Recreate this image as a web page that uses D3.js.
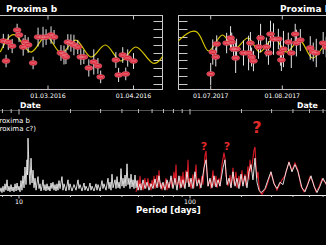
<!DOCTYPE html>
<html>
<head>
<meta charset="utf-8">
<script src="https://cdnjs.cloudflare.com/ajax/libs/d3/7.8.5/d3.min.js"></script>
<style>
  html, body { margin: 0; padding: 0; background: #000; overflow: hidden; }
  svg { display: block; }
  text { font-family: "DejaVu Sans", sans-serif; fill: #fff; }
</style>
</head>
<body>
<div id="root"></div>
<script>
// radial velocities, times in BJD - 2457000, values and errors in m/s
const rv2016Time = [432.3, 434.1, 433.3, 435.5, 437.3, 438.0, 439.5, 440.2, 441.3, 443.1, 444.9, 446.7, 447.8, 449.6, 450.7, 453.2, 454.3, 455.0, 455.7, 456.8, 457.9, 459.3, 460.4, 461.5, 463.3, 465.1, 466.6, 467.6, 473.1, 474.1, 475.6, 476.7, 477.4, 479.5];
const rv2016Value = [1.46, 1.33, -1.08, 0.82, 2.85, 2.22, 0.70, 1.33, 0.95, -1.33, 1.96, 1.96, 1.96, 2.22, 1.96, -0.06, -0.32, -0.57, 1.33, 1.20, 0.95, 0.70, -0.57, -0.57, -1.96, -1.20, -1.71, -3.10, -0.95, -2.85, -0.32, -2.72, -0.70, -1.08];
const rv2016Err = [0.9, 1.0, 0.8, 0.9, 0.8, 0.9, 1.1, 0.9, 1.0, 0.8, 1.2, 1.3, 1.0, 1.1, 0.9, 1.0, 1.2, 0.9, 1.0, 1.1, 1.3, 0.9, 1.0, 0.9, 1.1, 1.6, 1.0, 0.8, 1.0, 0.9, 1.0, 0.8, 1.1, 1.0];

const rv2017Time = [935.5, 936.4, 937.7, 938.1, 942.4, 944.1, 944.6, 945.4, 946.3, 946.7, 949.7, 951.9, 952.7, 953.2, 954.0, 956.2, 957.1, 959.6, 960.5, 961.4, 962.7, 964.8, 965.7, 966.1, 967.0, 969.1, 970.4, 972.1, 972.6, 974.3, 978.6, 979.9, 981.2, 984.2, 985.5];
const rv2017Value = [-2.72, 0.06, -0.57, 1.08, 1.20, 1.84, 1.33, 0.44, -0.70, 0.44, -0.06, -0.06, 1.20, -0.57, -1.08, 0.70, 1.84, 0.70, -0.06, 2.34, 1.71, 1.71, -0.06, -0.95, 0.44, 1.33, -0.06, 2.34, 1.20, 1.58, 0.57, 0.06, -0.06, 1.20, 0.70];
const rv2017Err = [1.4, 1.6, 1.2, 1.1, 1.3, 1.5, 1.2, 1.4, 1.9, 1.3, 1.6, 2.2, 1.4, 1.2, 1.3, 1.5, 1.8, 1.2, 1.5, 1.7, 2.0, 1.3, 1.6, 1.4, 2.3, 1.2, 1.9, 1.3, 1.7, 1.4, 1.5, 1.2, 1.8, 1.4, 1.3];

// model curve, read at its turning points
const model2016Time = [431.2, 436.6, 442.4, 447.8, 453.2, 458.6, 464.0, 469.4, 474.9, 480.3, 486.4, 491.8];
const model2016Value = [0.06, 2.22, 0.06, 2.09, -0.06, 1.58, -0.57, 0.95, -1.08, 0.70, -1.33, 0.60];
const model2017Time = [920.0, 929.5, 934.6, 940.5, 945.6, 951.7, 956.8, 962.9, 968.3, 974.1, 979.5, 985.5, 990.7];
const model2017Value = [1.08, 2.59, 0.19, 2.22, 0.44, 1.84, 0.06, 1.84, 0.06, 1.58, -0.70, 1.20, 0.0];

const rvTicks = [-4, -3, -2, -1, 0, 1, 2, 3, 4];
const dateTicks2016 = ["2016-03-01", "2016-04-01"];
const dateTicks2017 = ["2017-07-01", "2017-08-01"];

// periodograms: period in days, normalised power
const periodB = [7.74, 7.85, 7.95, 8.06, 8.17, 8.28, 8.39, 8.51, 8.62, 8.74, 8.86, 8.98, 9.10, 9.23, 9.35, 9.48, 9.61, 9.74, 9.87, 10.0, 10.14, 10.27, 10.41, 10.55, 10.70, 10.84, 10.99, 11.14, 11.22, 11.29, 11.45, 11.60, 11.76, 11.92, 12.08, 12.24, 12.41, 12.58, 12.75, 12.92, 13.10, 13.27, 13.45, 13.64, 13.82, 14.00, 14.19, 14.38, 14.58, 14.78, 14.98, 15.18, 15.39, 15.59, 15.80, 16.02, 16.24, 16.46, 16.68, 16.90, 17.13, 17.37, 17.84, 18.08, 18.33, 18.83, 19.35, 19.61, 19.87, 20.41, 20.97, 21.55, 22.14, 22.44, 22.74, 23.36, 24.00, 24.32, 24.65, 25.33, 26.02, 26.37, 26.73, 27.46, 28.21, 28.59, 28.98, 29.77, 30.58, 30.99, 31.41, 32.27, 33.15, 33.60, 34.06, 34.52, 34.99, 35.46, 36.43, 36.93, 37.43, 37.94, 38.45, 38.96, 39.49, 40.03, 40.57, 41.12, 41.68, 42.24, 42.82, 43.40, 43.98, 44.58, 45.19, 45.80, 46.42, 47.05, 47.69, 48.34, 48.99, 49.66, 51.01, 51.70, 53.12, 54.56, 56.05, 57.58, 59.16, 60.77, 62.42, 64.13, 65.88, 67.68, 69.53, 71.42, 73.37, 75.37, 77.43, 79.54, 81.71, 83.94, 86.23, 88.58, 91.00, 93.49, 96.04, 98.66, 101.4, 104.1, 106.9, 109.9, 112.8, 115.9, 120.8, 124.1, 127.5, 130.9, 134.5, 138.2, 141.9, 145.8, 149.8, 156.0, 160.2, 164.6, 169.1, 173.7, 178.4, 183.3, 188.3, 193.4, 198.7, 204.1, 209.7, 215.4, 221.3, 227.3, 233.5, 239.9, 246.4, 253.2, 260.1, 267.2, 274.5, 285.8, 297.6, 309.9, 322.7, 335.9, 349.8, 364.2, 379.2, 394.8, 411.1, 428.0, 451.8, 470.4, 489.8, 510.0, 531.0, 552.9, 575.7, 599.4, 624.1, 658.8];
const powerB = [0.04, 0.09, 0.03, 0.11, 0.04, 0.14, 0.06, 0.19, 0.05, 0.11, 0.04, 0.13, 0.05, 0.10, 0.04, 0.14, 0.05, 0.15, 0.06, 0.11, 0.04, 0.18, 0.06, 0.24, 0.09, 0.35, 0.13, 0.44, 0.25, 0.71, 0.31, 0.13, 0.46, 0.15, 0.31, 0.09, 0.21, 0.06, 0.15, 0.23, 0.08, 0.14, 0.05, 0.11, 0.19, 0.06, 0.13, 0.05, 0.14, 0.06, 0.11, 0.05, 0.15, 0.08, 0.16, 0.06, 0.13, 0.05, 0.14, 0.06, 0.18, 0.08, 0.23, 0.06, 0.14, 0.05, 0.19, 0.06, 0.14, 0.05, 0.13, 0.06, 0.19, 0.08, 0.13, 0.05, 0.15, 0.06, 0.11, 0.05, 0.15, 0.06, 0.11, 0.05, 0.14, 0.06, 0.13, 0.05, 0.18, 0.08, 0.14, 0.06, 0.21, 0.08, 0.16, 0.06, 0.26, 0.09, 0.19, 0.08, 0.23, 0.09, 0.16, 0.08, 0.33, 0.11, 0.21, 0.09, 0.25, 0.11, 0.39, 0.13, 0.21, 0.08, 0.26, 0.10, 0.19, 0.08, 0.25, 0.09, 0.18, 0.06, 0.14, 0.06, 0.19, 0.08, 0.16, 0.06, 0.14, 0.08, 0.20, 0.09, 0.24, 0.08, 0.16, 0.06, 0.19, 0.09, 0.24, 0.08, 0.21, 0.06, 0.24, 0.09, 0.19, 0.08, 0.29, 0.10, 0.21, 0.08, 0.29, 0.11, 0.19, 0.09, 0.34, 0.44, 0.11, 0.21, 0.09, 0.24, 0.10, 0.19, 0.11, 0.34, 0.44, 0.13, 0.21, 0.09, 0.29, 0.11, 0.21, 0.08, 0.26, 0.11, 0.24, 0.09, 0.29, 0.38, 0.19, 0.46, 0.16, 0.06, 0.03, 0.05, 0.08, 0.19, 0.29, 0.14, 0.08, 0.16, 0.13, 0.29, 0.41, 0.29, 0.38, 0.29, 0.09, 0.04, 0.14, 0.24, 0.11, 0.03, 0.11, 0.21, 0.14, 0.06];

const periodC = [48.34, 48.99, 49.66, 50.33, 51.01, 51.70, 52.41, 53.12, 54.56, 55.30, 56.05, 56.81, 57.58, 58.36, 59.16, 59.96, 60.77, 61.59, 62.42, 63.27, 64.13, 65.00, 65.88, 66.77, 67.68, 68.60, 69.53, 70.47, 72.39, 73.37, 74.37, 75.37, 77.43, 78.48, 80.62, 81.71, 82.82, 83.94, 86.23, 87.39, 88.58, 89.78, 91.00, 92.23, 94.75, 96.04, 97.34, 98.66, 100.0, 101.4, 104.1, 105.5, 108.4, 109.9, 112.8, 114.4, 117.5, 119.1, 122.4, 124.1, 125.8, 127.5, 130.9, 132.7, 136.3, 138.2, 141.9, 143.8, 147.8, 149.8, 153.9, 158.0, 160.2, 162.4, 166.8, 171.4, 173.7, 178.4, 180.8, 185.8, 188.3, 193.4, 196.1, 201.4, 204.1, 209.7, 212.6, 218.3, 221.3, 224.3, 227.3, 233.5, 236.7, 239.9, 243.2, 246.4, 249.8, 253.2, 256.6, 263.6, 270.9, 278.4, 285.8, 297.6, 309.9, 322.7, 335.9, 345.1, 359.3, 379.2, 394.8, 411.1, 428.0, 445.8, 464.1, 483.2, 503.2, 524.0, 545.6, 568.0, 591.5, 615.9, 641.2];
const powerC = [0.04, 0.09, 0.19, 0.06, 0.24, 0.09, 0.15, 0.06, 0.21, 0.08, 0.14, 0.21, 0.09, 0.15, 0.06, 0.19, 0.10, 0.24, 0.08, 0.18, 0.25, 0.09, 0.31, 0.10, 0.15, 0.06, 0.14, 0.08, 0.21, 0.06, 0.16, 0.08, 0.21, 0.09, 0.29, 0.13, 0.38, 0.11, 0.19, 0.08, 0.24, 0.10, 0.29, 0.09, 0.31, 0.15, 0.44, 0.11, 0.21, 0.08, 0.26, 0.09, 0.38, 0.14, 0.21, 0.08, 0.24, 0.13, 0.50, 0.55, 0.29, 0.11, 0.19, 0.08, 0.31, 0.11, 0.24, 0.09, 0.21, 0.11, 0.38, 0.53, 0.46, 0.25, 0.11, 0.25, 0.09, 0.34, 0.13, 0.29, 0.09, 0.24, 0.11, 0.31, 0.14, 0.26, 0.11, 0.36, 0.19, 0.44, 0.29, 0.46, 0.56, 0.60, 0.38, 0.21, 0.29, 0.11, 0.04, 0.01, 0.05, 0.09, 0.16, 0.28, 0.15, 0.06, 0.14, 0.19, 0.24, 0.41, 0.31, 0.40, 0.31, 0.11, 0.04, 0.11, 0.23, 0.16, 0.04, 0.10, 0.20, 0.16, 0.09];

const periodTicks = [10, 100];
const questionPeriods = [120.8, 164.6, 246.4];
const questionPower = [0.56, 0.56, 0.77];
const questionSize = [11, 11, 16];

const W = 326, H = 245;
const svg = d3.select("#root").append("svg").attr("width", W).attr("height", H);
svg.append("rect").attr("width", W).attr("height", H).attr("fill", "#000");

const jdToDate = t => new Date((t + 2457000 - 2440587.5) * 864e5);
const fmt = d3.utcFormat("%d.%m.%Y");
const frameTop = 15.5, frameBottom = 89.5;

const y = d3.scaleLinear().domain([-4, 4]).range([84, 21]);

function drawPanel(opt) {
  const g = svg.append("g");
  const x = d3.scaleUtc()
    .domain([new Date(opt.ticks[0]), new Date(opt.ticks[1])])
    .range(opt.tickX);

  const clipId = "clip" + opt.id;
  svg.append("clipPath").attr("id", clipId)
    .append("rect")
    .attr("x", opt.left).attr("y", frameTop)
    .attr("width", opt.right - opt.left).attr("height", frameBottom - frameTop);

  g.append("rect")
    .attr("x", opt.left).attr("y", frameTop)
    .attr("width", opt.right - opt.left).attr("height", frameBottom - frameTop)
    .attr("fill", "none").attr("stroke", "#c8c8c8").attr("stroke-width", 1);

  // rv ticks on the inner side
  const tx = opt.tickSide === "right" ? opt.right : opt.left;
  const dir = opt.tickSide === "right" ? -1 : 1;
  g.selectAll(".rvtick").data(rvTicks).join("line")
    .attr("x1", tx).attr("x2", tx + dir * 9)
    .attr("y1", d => Math.round(y(d)) + 0.5).attr("y2", d => Math.round(y(d)) + 0.5)
    .attr("stroke", "#c8c8c8").attr("stroke-width", 1);

  const dates = opt.ticks.map(d => new Date(d));
  g.selectAll(".dtb").data(dates).join("line")
    .attr("x1", d => x(d)).attr("x2", d => x(d))
    .attr("y1", frameBottom).attr("y2", frameBottom - 4)
    .attr("stroke", "#c8c8c8");
  g.selectAll(".dtt").data(dates).join("line")
    .attr("x1", d => x(d)).attr("x2", d => x(d))
    .attr("y1", frameTop).attr("y2", frameTop + 4)
    .attr("stroke", "#c8c8c8");
  g.selectAll(".dlab").data(dates).join("text")
    .attr("x", d => x(d)).attr("y", 98)
    .attr("text-anchor", "middle")
    .attr("font-size", 6.2).attr("fill", "#ddd")
    .text(d => fmt(d));

  const inner = g.append("g").attr("clip-path", `url(#${clipId})`);

  const line = d3.line()
    .x(d => x(jdToDate(d[0])))
    .y(d => y(d[1]))
    .curve(d3.curveNatural);
  inner.append("path")
    .datum(opt.modelT.map((t, i) => [t, opt.modelV[i]]))
    .attr("d", line)
    .attr("fill", "none").attr("stroke", "#d9c800").attr("stroke-width", 1.2);

  const pts = opt.t.map((t, i) => ({ t: t, v: opt.v[i], e: opt.e[i] }));
  inner.selectAll(".err").data(pts).join("line")
    .attr("x1", d => x(jdToDate(d.t))).attr("x2", d => x(jdToDate(d.t)))
    .attr("y1", d => y(d.v + d.e)).attr("y2", d => y(d.v - d.e))
    .attr("stroke", "#e6e6e6").attr("stroke-width", 1);
  inner.selectAll(".pt").data(pts).join("ellipse")
    .attr("cx", d => x(jdToDate(d.t))).attr("cy", d => y(d.v))
    .attr("rx", 4).attr("ry", 2.4)
    .attr("fill", "#dc2236").attr("stroke", "#e88a94").attr("stroke-width", 0.5);
  inner.selectAll(".ptc").data(pts).join("line")
    .attr("x1", d => x(jdToDate(d.t)) - 2.5).attr("x2", d => x(jdToDate(d.t)) + 2.5)
    .attr("y1", d => y(d.v)).attr("y2", d => y(d.v))
    .attr("stroke", "#f4c4c8").attr("stroke-width", 0.6);

  g.append("text")
    .attr("x", opt.titleX).attr("y", 11.5)
    .attr("font-size", 9).attr("font-weight", "bold")
    .text("Proxima b");
  g.append("text")
    .attr("x", opt.dateX).attr("y", 107.5)
    .attr("font-size", 7.8).attr("font-weight", "bold")
    .text("Date");
}

drawPanel({
  id: 1, left: -20, right: 162.5, tickSide: "right",
  ticks: dateTicks2016, tickX: [48, 133.5],
  t: rv2016Time, v: rv2016Value, e: rv2016Err,
  modelT: model2016Time, modelV: model2016Value,
  titleX: 6, dateX: 20
});
drawPanel({
  id: 2, left: 178.5, right: 360, tickSide: "left",
  ticks: dateTicks2017, tickX: [210.7, 282.3],
  t: rv2017Time, v: rv2017Value, e: rv2017Err,
  modelT: model2017Time, modelV: model2017Value,
  titleX: 280, dateX: 297
});

// periodogram
const px = d3.scaleLog().domain([10, 100]).range([19, 190]);
const py = d3.scaleLinear().domain([0, 1]).range([195, 115]);
const axisTop = 110.5, axisBottom = 195.5;

const minor = [];
[1, 10, 100].forEach(dec => {
  for (let k = 1; k < 10; k++) minor.push(dec * k);
});
const visMinor = minor.filter(p => px(p) > -2 && px(p) < W + 2);

svg.append("line").attr("x1", 0).attr("x2", W).attr("y1", axisTop).attr("y2", axisTop)
  .attr("stroke", "#555").attr("stroke-width", 1);
svg.selectAll(".mt").data(visMinor).join("line")
  .attr("x1", d => px(d)).attr("x2", d => px(d))
  .attr("y1", axisTop - 1.5).attr("y2", d => axisTop + (periodTicks.includes(d) ? 4 : 2.5))
  .attr("stroke", "#bbb");

const lineP = d3.line().x(d => px(d[0])).y(d => py(d[1]));
svg.append("path")
  .datum(periodC.map((p, i) => [p, powerC[i]]))
  .attr("d", lineP)
  .attr("fill", "none").attr("stroke", "#d81c28").attr("stroke-width", 1.1);
svg.append("path")
  .datum(periodB.map((p, i) => [p, powerB[i]]))
  .attr("d", lineP)
  .attr("fill", "none").attr("stroke", "#f2f2f2").attr("stroke-width", 0.9);

svg.append("line").attr("x1", 0).attr("x2", W).attr("y1", axisBottom).attr("y2", axisBottom)
  .attr("stroke", "#e8e8e8").attr("stroke-width", 1.2);
svg.selectAll(".bt").data(visMinor).join("line")
  .attr("x1", d => px(d)).attr("x2", d => px(d))
  .attr("y1", axisBottom).attr("y2", d => axisBottom + (periodTicks.includes(d) ? 3 : 1.5))
  .attr("stroke", "#ccc");
svg.selectAll(".pl").data(periodTicks).join("text")
  .attr("x", d => px(d)).attr("y", 204)
  .attr("text-anchor", "middle")
  .attr("font-size", 6.2).attr("fill", "#ddd")
  .text(d => d);

svg.append("text").attr("x", 136).attr("y", 213)
  .attr("font-size", 8.6).attr("font-weight", "bold")
  .text("Period [days]");

svg.append("text").attr("x", 30).attr("y", 123)
  .attr("text-anchor", "end").attr("font-size", 7).attr("fill", "#eee")
  .text("Proxima b");
svg.append("text").attr("x", 36).attr("y", 131)
  .attr("text-anchor", "end").attr("font-size", 7).attr("fill", "#eee")
  .text("(Proxima c?)");

svg.selectAll(".q").data(questionPeriods).join("text")
  .attr("x", d => px(d)).attr("y", (d, i) => py(questionPower[i]))
  .attr("text-anchor", "middle")
  .attr("font-size", (d, i) => questionSize[i])
  .attr("font-weight", "bold")
  .style("fill", "#e02a2a")
  .text("?");
</script>
</body>
</html>
